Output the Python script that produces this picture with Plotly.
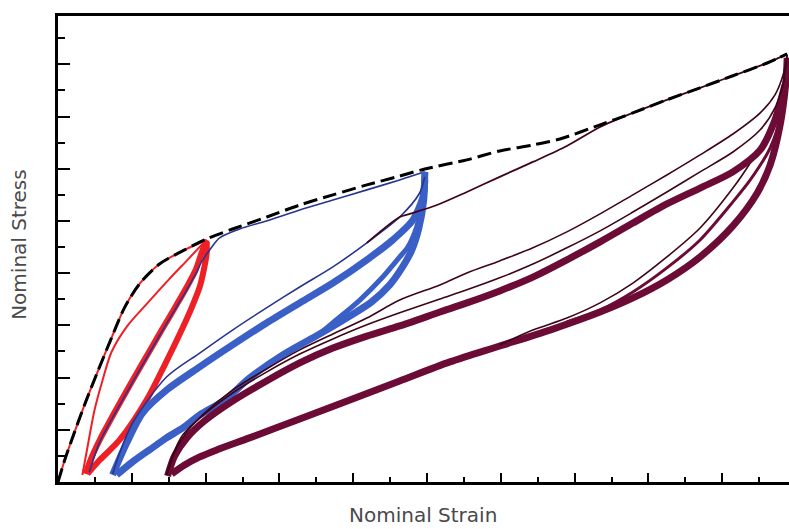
import plotly.graph_objects as go

# ---- data (strain, stress); arbitrary units ----
env_x = [0, 0.20, 0.45, 0.75, 1.07, 1.45, 1.80, 2.21, 2.75, 3.43, 4.03, 4.73, 5.66, 6.55, 7.45, 8.37,
         9.26, 9.94, 11.08, 11.97, 12.87, 13.60, 14.69, 15.58, 16.50, 17.40, 18.29, 19.22, 19.76]
env_y = [0, 0.92, 1.92, 3.07, 4.21, 5.52, 6.67, 7.59, 8.35, 8.89, 9.31, 9.69, 10.15, 10.61, 11.00, 11.38,
         11.72, 11.99, 12.34, 12.68, 12.91, 13.14, 13.68, 14.14, 14.64, 15.10, 15.56, 16.05, 16.40]

red_first_x = [0, 0.20, 0.45, 0.75, 1.07, 1.45, 1.80, 2.21, 2.75, 3.43, 4.03]
red_first_y = [0, 0.92, 1.92, 3.07, 4.21, 5.52, 6.67, 7.59, 8.35, 8.89, 9.27]
red_reload_x = [0.75, 0.88, 1.13, 1.72, 2.26, 2.81, 3.21, 3.49, 3.73, 3.89, 4.03]
red_reload_y = [0.31, 0.84, 1.61, 3.14, 4.48, 5.82, 6.78, 7.47, 8.12, 8.77, 9.27]
red_unload_x = [4.03, 4.03, 3.95, 3.84, 3.62, 3.35, 2.89, 2.40, 1.67, 1.13, 0.80]
red_unload_y = [9.20, 8.77, 8.12, 7.47, 6.67, 5.82, 4.48, 3.14, 1.61, 0.84, 0.31]
red_thin_x = [0.66, 0.80, 0.99, 1.21, 1.45, 1.88, 2.43, 3.02, 3.51, 3.97]
red_thin_y = [0.27, 1.34, 2.76, 3.91, 4.98, 5.98, 6.86, 7.78, 8.51, 9.20]

blue_first_x = [0.85, 1.13, 1.72, 2.26, 2.81, 3.21, 3.49, 3.73, 3.89, 4.11, 4.38, 4.92, 5.65, 6.55,
                7.45, 8.37, 9.26, 9.94]
blue_first_y = [0.38, 1.53, 3.07, 4.41, 5.75, 6.70, 7.36, 7.97, 8.43, 8.89, 9.35, 9.69, 10.00, 10.42,
                10.80, 11.19, 11.57, 11.88]
blue_thin_x = [1.48, 1.67, 2.02, 2.94, 3.84, 4.73, 5.65, 6.55, 7.45, 8.37, 9.26, 9.80, 9.94]
blue_thin_y = [0.31, 1.11, 2.26, 4.02, 4.94, 5.82, 6.67, 7.47, 8.24, 9.16, 10.15, 11.07, 11.69]
blue_reload_x = [1.48, 1.86, 2.29, 2.94, 3.84, 4.73, 5.65, 6.55, 7.45, 8.37, 9.07, 9.62, 9.89, 9.94]
blue_reload_y = [0.27, 1.49, 2.64, 3.52, 4.41, 5.25, 6.09, 6.86, 7.62, 8.51, 9.27, 10.04, 10.92, 11.57]
blue_unload_x = [9.94, 9.91, 9.78, 9.59, 9.32, 8.99, 8.50, 7.91, 7.09, 6.09, 5.19, 4.52, 3.84, 3.38,
                 2.94, 2.48, 2.02, 1.59]
blue_unload_y = [11.88, 10.80, 9.73, 8.89, 8.20, 7.55, 6.90, 6.36, 5.67, 4.87, 3.98, 3.14, 2.57, 2.07,
                 1.69, 1.23, 0.77, 0.27]
blue_unload_b_x = [9.94, 9.86, 9.72, 9.48, 9.26, 8.80, 8.18, 7.45, 7.09]
blue_unload_b_y = [11.88, 10.61, 9.77, 9.00, 8.62, 7.85, 6.97, 6.10, 5.67]

pur_first_x = [8.37, 9.26, 9.53, 10.27, 11.08, 11.97, 12.87, 13.79, 14.69, 15.58, 16.50, 17.40, 18.29,
               19.22, 19.76]
pur_first_y = [9.16, 10.15, 10.27, 10.61, 11.11, 11.69, 12.26, 12.87, 13.60, 14.14, 14.64, 15.10, 15.56,
               16.05, 16.40]
pur_u1_x = [2.97, 3.16, 3.49, 3.97, 4.73, 5.65, 6.55, 7.45, 8.37, 9.26, 10.35, 11.08, 11.97, 12.87,
            13.79, 14.69, 15.58, 16.50, 17.40, 18.29, 19.03, 19.43, 19.65, 19.76]
pur_u1_y = [0.31, 1.15, 1.92, 2.64, 3.52, 4.33, 5.06, 5.67, 6.28, 6.97, 7.55, 8.01, 8.47, 8.97,
            9.58, 10.27, 11.00, 11.76, 12.53, 13.33, 14.14, 14.83, 15.59, 16.32]
pur_u2_x = [2.94, 3.11, 3.38, 3.84, 4.73, 5.65, 6.55, 7.45, 8.37, 9.26, 10.35, 11.08, 11.97, 12.87,
            13.79, 14.69, 15.58, 16.50, 17.40, 18.29, 19.03, 19.43, 19.70]
pur_u2_y = [0.27, 1.03, 1.80, 2.45, 3.41, 4.21, 4.90, 5.48, 6.02, 6.48, 7.01, 7.36, 7.82, 8.35,
            8.97, 9.62, 10.34, 11.11, 11.88, 12.64, 13.49, 14.33, 15.48]
pur_u3_x = [2.97, 3.16, 3.49, 3.97, 4.73, 5.65, 6.55, 7.45, 8.37, 9.26, 10.35, 11.08, 11.97, 12.87,
            13.79, 14.69, 15.58, 16.50, 17.40, 18.29, 19.03, 19.43, 19.70]
pur_u3_y = [0.23, 1.00, 1.69, 2.34, 3.10, 3.87, 4.56, 5.13, 5.59, 5.98, 6.51, 6.86, 7.32, 7.85,
            8.51, 9.20, 9.92, 10.65, 11.26, 11.88, 12.72, 13.87, 15.21]
pur_unload_x = [19.76, 19.73, 19.57, 19.30, 18.95, 18.29, 17.40, 16.50, 15.58, 14.69, 13.33, 11.97,
                10.62, 9.26, 7.91, 6.55, 5.19, 4.30, 3.84, 3.43, 3.08]
pur_unload_y = [16.25, 15.40, 13.68, 12.15, 11.07, 9.81, 8.62, 7.74, 7.05, 6.51, 5.82, 5.21,
                4.60, 3.87, 3.14, 2.41, 1.69, 1.23, 0.96, 0.65, 0.31]
pur_l1_x = [19.76, 19.57, 19.22, 18.76, 18.29, 17.40, 16.50, 15.58, 14.69, 13.79, 12.87, 11.97]
pur_l1_y = [16.36, 14.64, 13.30, 12.22, 11.26, 9.73, 8.62, 7.62, 6.86, 6.28, 5.82, 5.25]
pur_l2_x = [19.76, 19.62, 19.30, 18.76, 18.29, 17.40, 16.50, 15.58, 14.69, 13.79]
pur_l2_y = [16.25, 14.25, 12.80, 11.57, 10.73, 9.27, 8.20, 7.28, 6.59, 6.13]

RED = "#ee1f25"
BLUE = "#3a5fc6"
BLUE_DARK = "#27358f"
PURPLE = "#6c0b36"
PURPLE_DARK = "#3e0418"

fig = go.Figure()


def add(x, y, color, width, dash=None):
    fig.add_trace(go.Scatter(x=x, y=y, mode="lines",
                             line=dict(color=color, width=width, shape="spline", smoothing=0.8,
                                       dash=dash),
                             hoverinfo="skip", showlegend=False))


# red cycles
add(red_first_x, red_first_y, RED, 2)
add(red_thin_x, red_thin_y, RED, 2)
add(red_reload_x, red_reload_y, RED, 6)
add(red_unload_x, red_unload_y, RED, 6)
# blue cycles
add(blue_first_x, blue_first_y, BLUE_DARK, 1.6)
add(blue_unload_x, blue_unload_y, BLUE, 7)
add(blue_unload_b_x, blue_unload_b_y, BLUE, 5)
add(blue_reload_x, blue_reload_y, BLUE, 7)
add(blue_thin_x, blue_thin_y, BLUE_DARK, 1.6)
# purple cycles
add(pur_first_x, pur_first_y, PURPLE_DARK, 1.8)
add(pur_unload_x, pur_unload_y, PURPLE, 7)
add(pur_l2_x, pur_l2_y, PURPLE, 3)
add(pur_l1_x, pur_l1_y, PURPLE_DARK, 1.6)
add(pur_u3_x, pur_u3_y, PURPLE, 7)
add(pur_u2_x, pur_u2_y, PURPLE_DARK, 1.6)
add(pur_u1_x, pur_u1_y, PURPLE_DARK, 1.6)
# primary (envelope) curve
add(env_x, env_y, "black", 3, dash="14px,6px")

axis_common = dict(showgrid=False, zeroline=False, showticklabels=False,
                   showline=True, linecolor="black", linewidth=2.5,
                   ticks="inside", tickcolor="black", tickwidth=2)

fig.update_xaxes(range=[0, 19.81], tick0=0, dtick=2, ticklen=9, mirror=True,
                 minor=dict(ticks="inside", dtick=1, tick0=0, ticklen=5, tickwidth=2,
                            tickcolor="black", showgrid=False),
                 **axis_common)
fig.update_yaxes(range=[0, 17.85], tick0=0, dtick=2, ticklen=12, mirror=False,
                 minor=dict(ticks="inside", dtick=1, tick0=0, ticklen=7, tickwidth=2,
                            tickcolor="black", showgrid=False),
                 **axis_common)

fig.add_annotation(text="Nominal Strain", xref="paper", yref="paper", x=0.4993, y=-0.1009,
                   xanchor="center", yanchor="bottom", showarrow=False,
                   font=dict(family="DejaVu Sans", size=20, color="#4a4a4a"))
fig.add_annotation(text="Nominal Stress", xref="paper", yref="paper", x=-0.0534, y=0.511,
                   xanchor="center", yanchor="middle", showarrow=False, textangle=-90,
                   font=dict(family="DejaVu Sans", size=20, color="#4a4a4a"))

fig.update_layout(width=789, height=529, margin=dict(l=58, r=0, t=16, b=47),
                  paper_bgcolor="white", plot_bgcolor="white")

fig.write_html("out.html")
